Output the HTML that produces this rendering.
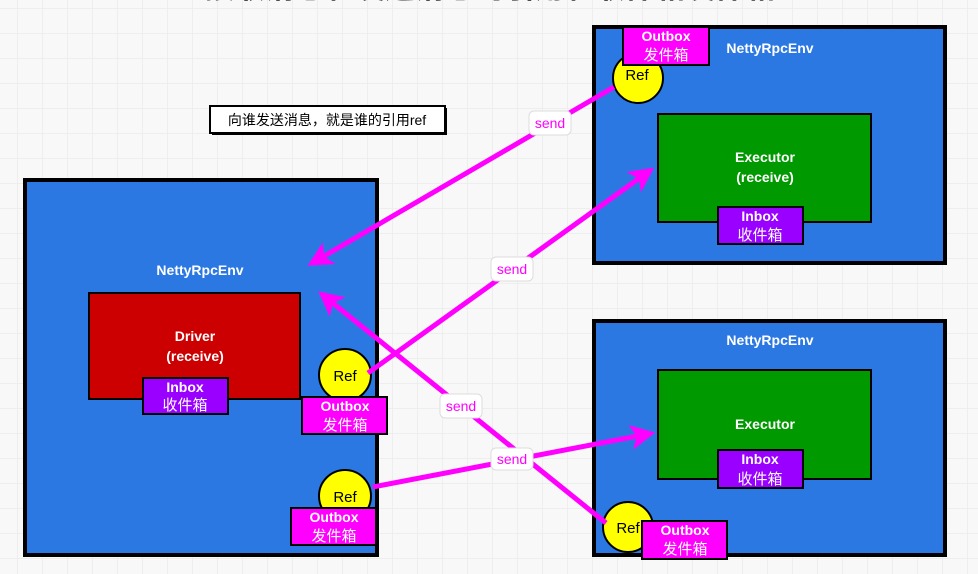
<!DOCTYPE html>
<html><head><meta charset="utf-8"><style>
body{margin:0;width:978px;height:574px;overflow:hidden;background:#f8f8f8;}
svg{display:block}
text{font-family:"Liberation Sans","Noto Sans CJK SC",sans-serif;}
</style></head><body>
<svg width="978" height="574" viewBox="0 0 978 574" xmlns="http://www.w3.org/2000/svg">
<defs>
<pattern id="g" x="17" y="8" width="25" height="25" patternUnits="userSpaceOnUse">
<path d="M0 0H25M0 0V25" stroke="#ebebeb" stroke-width="1.5" fill="none"/>
</pattern>
<marker id="ah" markerWidth="5" markerHeight="5" refX="3.5" refY="2.5" orient="auto" markerUnits="strokeWidth">
<path d="M0,0 L5,2.5 L0,5 L1.2,2.5 z" fill="#ff00ff"/>
</marker>
</defs>
<rect width="978" height="574" fill="url(#g)"/>
<text x="490" y="-2" font-size="30" text-anchor="middle" fill="#333" font-weight="bold">接收消息和发送消息的引用和收件箱发件箱</text>

<!-- left env -->
<rect x="25" y="180" width="352" height="375" fill="#2c78e2" stroke="#000" stroke-width="4"/>
<text x="200" y="275" font-size="14" fill="#fff" font-weight="bold" text-anchor="middle">NettyRpcEnv</text>
<rect x="89" y="293" width="211" height="106" fill="#cc0000" stroke="#000" stroke-width="2"/>
<text x="195" y="341" font-size="14" fill="#fff" font-weight="bold" text-anchor="middle">Driver</text>
<text x="195" y="361" font-size="14" fill="#fff" font-weight="bold" text-anchor="middle">(receive)</text>
<rect x="143" y="378" width="85" height="36" fill="#9900ff" stroke="#000" stroke-width="2"/>
<text x="185" y="392" font-size="14" fill="#fff" font-weight="bold" text-anchor="middle">Inbox</text>
<text x="185" y="410" font-size="15" fill="#fff" text-anchor="middle">收件箱</text>

<circle cx="345" cy="375" r="26" fill="#ffff00" stroke="#000" stroke-width="2"/>
<text x="345" y="381" font-size="15" fill="#000" text-anchor="middle">Ref</text>
<rect x="302" y="397" width="85" height="37" fill="#ff00ff" stroke="#000" stroke-width="2"/>
<text x="345" y="411" font-size="14" fill="#fff" font-weight="bold" text-anchor="middle">Outbox</text>
<text x="345" y="430" font-size="15" fill="#fff" text-anchor="middle">发件箱</text>

<circle cx="345" cy="496" r="26" fill="#ffff00" stroke="#000" stroke-width="2"/>
<text x="345" y="502" font-size="15" fill="#000" text-anchor="middle">Ref</text>
<rect x="291" y="508" width="85" height="37" fill="#ff00ff" stroke="#000" stroke-width="2"/>
<text x="334" y="522" font-size="14" fill="#fff" font-weight="bold" text-anchor="middle">Outbox</text>
<text x="334" y="541" font-size="15" fill="#fff" text-anchor="middle">发件箱</text>

<!-- top right env -->
<rect x="594" y="27" width="351" height="236" fill="#2c78e2" stroke="#000" stroke-width="4"/>
<text x="770" y="53" font-size="14" fill="#fff" font-weight="bold" text-anchor="middle">NettyRpcEnv</text>
<circle cx="638" cy="78" r="25" fill="#ffff00" stroke="#000" stroke-width="2"/>
<text x="637" y="80" font-size="15" fill="#000" text-anchor="middle">Ref</text>
<rect x="623" y="27" width="86" height="38" fill="#ff00ff" stroke="#000" stroke-width="2"/>
<text x="666" y="41" font-size="14" fill="#fff" font-weight="bold" text-anchor="middle">Outbox</text>
<text x="666" y="60" font-size="15" fill="#fff" text-anchor="middle">发件箱</text>
<rect x="658" y="114" width="213" height="108" fill="#009900" stroke="#000" stroke-width="2"/>
<text x="765" y="162" font-size="14" fill="#fff" font-weight="bold" text-anchor="middle">Executor</text>
<text x="765" y="182" font-size="14" fill="#fff" font-weight="bold" text-anchor="middle">(receive)</text>
<rect x="718" y="207" width="85" height="37" fill="#9900ff" stroke="#000" stroke-width="2"/>
<text x="760" y="221" font-size="14" fill="#fff" font-weight="bold" text-anchor="middle">Inbox</text>
<text x="760" y="240" font-size="15" fill="#fff" text-anchor="middle">收件箱</text>

<!-- bottom right env -->
<rect x="594" y="321" width="351" height="234" fill="#2c78e2" stroke="#000" stroke-width="4"/>
<text x="770" y="345" font-size="14" fill="#fff" font-weight="bold" text-anchor="middle">NettyRpcEnv</text>
<rect x="658" y="370" width="213" height="109" fill="#009900" stroke="#000" stroke-width="2"/>
<text x="765" y="429" font-size="14" fill="#fff" font-weight="bold" text-anchor="middle">Executor</text>
<rect x="718" y="450" width="85" height="38" fill="#9900ff" stroke="#000" stroke-width="2"/>
<text x="760" y="464" font-size="14" fill="#fff" font-weight="bold" text-anchor="middle">Inbox</text>
<text x="760" y="484" font-size="15" fill="#fff" text-anchor="middle">收件箱</text>
<circle cx="628" cy="527" r="25" fill="#ffff00" stroke="#000" stroke-width="2"/>
<text x="628" y="533" font-size="15" fill="#000" text-anchor="middle">Ref</text>
<rect x="642" y="521" width="85" height="38" fill="#ff00ff" stroke="#000" stroke-width="2"/>
<text x="685" y="535" font-size="14" fill="#fff" font-weight="bold" text-anchor="middle">Outbox</text>
<text x="685" y="554" font-size="15" fill="#fff" text-anchor="middle">发件箱</text>

<!-- note -->
<rect x="212" y="108" width="235" height="27" fill="#000"/>
<rect x="210" y="106" width="235" height="27" fill="#fff" stroke="#000" stroke-width="2"/>
<text x="327" y="125" font-size="14" fill="#000" text-anchor="middle">向谁发送消息，就是谁的引用ref</text>

<!-- arrows -->
<g stroke="#ff00ff" stroke-width="5" fill="none">
<line x1="614" y1="87" x2="314" y2="262" marker-end="url(#ah)"/>
<line x1="368" y1="373" x2="648" y2="172" marker-end="url(#ah)"/>
<line x1="606" y1="523" x2="324" y2="296" marker-end="url(#ah)"/>
<line x1="373" y1="487" x2="648" y2="434" marker-end="url(#ah)"/>
</g>
<g font-size="14" fill="#ff00ff" text-anchor="middle">
<rect x="529" y="111" width="42" height="24" rx="5" fill="#fff" stroke="#ddd"/>
<text x="550" y="128">send</text>
<rect x="491" y="257" width="42" height="24" rx="5" fill="#fff" stroke="#ddd"/>
<text x="512" y="274">send</text>
<rect x="440" y="394" width="42" height="24" rx="5" fill="#fff" stroke="#ddd"/>
<text x="461" y="411">send</text>
<rect x="491" y="448" width="42" height="22" rx="5" fill="#fff" stroke="#ddd"/>
<text x="512" y="464">send</text>
</g>
</svg>
</body></html>
